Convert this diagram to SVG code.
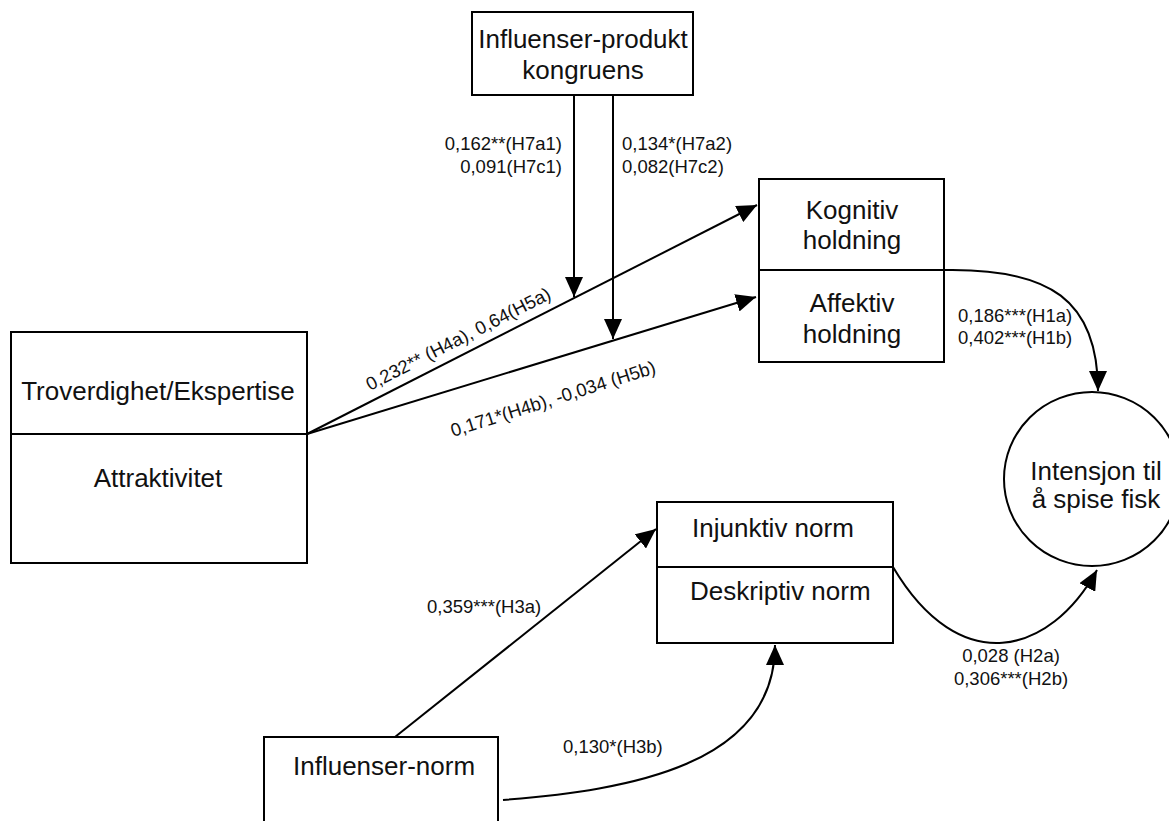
<svg xmlns="http://www.w3.org/2000/svg" width="1169" height="821" viewBox="0 0 1169 821">
<defs>
<style>
.box{fill:#fff;stroke:#000;stroke-width:2}
.div{fill:none;stroke:#000;stroke-width:2}
.node{font-family:"Liberation Sans",Arial,sans-serif;font-size:26px;fill:#111}
.lbl{font-family:"Liberation Sans",Arial,sans-serif;font-size:18.5px;fill:#111}
.edge{fill:none;stroke:#000;stroke-width:2;marker-end:url(#arr)}
</style>
<marker id="arr" markerUnits="userSpaceOnUse" markerWidth="22" markerHeight="18" refX="20" refY="9" orient="auto">
<path d="M0,0 L20,9 L0,18 z" fill="#000"/>
</marker>
</defs>
<rect width="1169" height="821" fill="#fff"/>

<g id="connectors">
<path class="edge" d="M307,434 L757,205"/>
<path class="edge" d="M307,434 L756,297"/>
<path class="edge" d="M574,95 L574,297"/>
<path class="edge" d="M613,95 L613,339"/>
<path class="edge" d="M944,270 C1050,268 1098,300 1098,391"/>
<path class="edge" d="M893,567 C960,680 1050,655 1097,570"/>
<path class="edge" d="M395,737 L656,529"/>
<path class="edge" d="M503,800 C630,790 775,765 775,645"/>
</g>

<g id="labels">
<text class="lbl" x="562" y="150" text-anchor="end">0,162**(H7a1)</text>
<text class="lbl" x="562" y="173" text-anchor="end">0,091(H7c1)</text>
<text class="lbl" x="622" y="150">0,134*(H7a2)</text>
<text class="lbl" x="622" y="173">0,082(H7c2)</text>
<text class="lbl" x="370" y="391" font-size="19" transform="rotate(-27 370 391)">0,232** (H4a), 0,64(H5a)</text>
<text class="lbl" x="453" y="437" font-size="19" transform="rotate(-17.5 453 437)">0,171*(H4b), -0,034 (H5b)</text>
<text class="lbl" x="958" y="322">0,186***(H1a)</text>
<text class="lbl" x="958" y="344">0,402***(H1b)</text>
<text class="lbl" x="1011" y="662" text-anchor="middle">0,028 (H2a)</text>
<text class="lbl" x="1011" y="685" text-anchor="middle">0,306***(H2b)</text>
<text class="lbl" x="427" y="613">0,359***(H3a)</text>
<text class="lbl" x="563" y="753">0,130*(H3b)</text>
</g>

<g id="node-kongruens">
<rect class="box" x="472" y="12" width="221" height="83"/>
<text class="node" x="583" y="48" text-anchor="middle">Influenser-produkt</text>
<text class="node" x="583" y="79" text-anchor="middle">kongruens</text>
</g>

<g id="node-kilde">
<rect class="box" x="11" y="332" width="296" height="231"/>
<line class="div" x1="11" y1="434" x2="307" y2="434"/>
<text class="node" x="158" y="400" text-anchor="middle" font-size="23.5">Troverdighet/Ekspertise</text>
<text class="node" x="158" y="487" text-anchor="middle" font-size="23.5">Attraktivitet</text>
</g>

<g id="node-holdning">
<rect class="box" x="759" y="179" width="185" height="183"/>
<line class="div" x1="759" y1="270" x2="944" y2="270"/>
<text class="node" x="852" y="219" text-anchor="middle">Kognitiv</text>
<text class="node" x="852" y="249" text-anchor="middle">holdning</text>
<text class="node" x="852" y="312" text-anchor="middle">Affektiv</text>
<text class="node" x="852" y="343" text-anchor="middle">holdning</text>
</g>

<g id="node-norm">
<rect class="box" x="657" y="502" width="236" height="141"/>
<line class="div" x1="657" y1="567" x2="893" y2="567"/>
<text class="node" x="692" y="537">Injunktiv norm</text>
<text class="node" x="690" y="600">Deskriptiv norm</text>
</g>

<g id="node-influensernorm">
<rect class="box" x="264" y="737" width="234" height="100"/>
<text class="node" x="293" y="775">Influenser-norm</text>
</g>

<g id="node-intensjon">
<ellipse class="box" cx="1092" cy="479" rx="88" ry="87"/>
<text class="node" x="1096" y="480" text-anchor="middle">Intensjon til</text>
<text class="node" x="1096" y="508" text-anchor="middle">å spise fisk</text>
</g>
</svg>
